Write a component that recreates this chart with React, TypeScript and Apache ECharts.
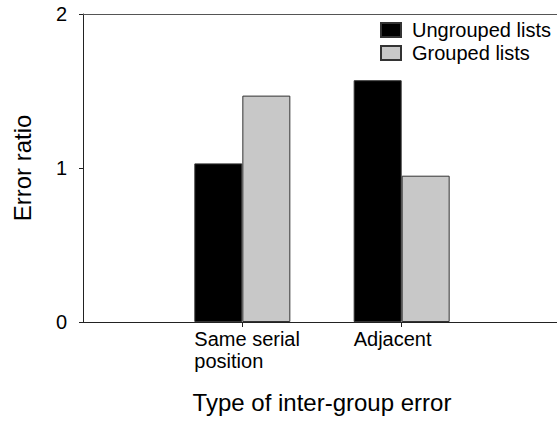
import React, { useEffect, useRef } from "react";
import * as echarts from "echarts";

const categories = ["", "Same serial\nposition", "Adjacent", ""];
const seriesNames = ["Ungrouped lists", "Grouped lists"];
const ungrouped = [null, 1.03, 1.57, null];
const grouped = [null, 1.47, 0.95, null];
const yMin = 0;
const yMax = 2;
const yInterval = 1;

export default function App() {
  const ref = useRef<HTMLDivElement>(null);
  useEffect(() => {
    const chart = echarts.init(ref.current!, null, { renderer: "svg" });
    const font = "'Liberation Sans', Arial, Helvetica, sans-serif";
    chart.setOption({
      animation: false,
      backgroundColor: "#ffffff",
      textStyle: { fontFamily: font, color: "#000" },
      grid: {
        left: 83,
        width: 478,
        top: 14,
        bottom: 101,
        containLabel: false,
        outerBoundsMode: "none",
      },
      legend: {
        left: 380,
        top: 20,
        orient: "vertical",
        itemWidth: 20,
        itemHeight: 14,
        itemGap: 3,
        icon: "rect",
        padding: 0,
        data: seriesNames,
        textStyle: { fontSize: 20, color: "#000", fontFamily: font, padding: [0, 0, 0, 6] },
      },
      xAxis: [
        {
          type: "category",
          data: categories,
          boundaryGap: false,
          name: "Type of inter-group error",
          nameLocation: "middle",
          nameGap: 68,
          nameTextStyle: { fontSize: 24, color: "#000", fontFamily: font },
          axisLine: { show: true, lineStyle: { color: "#222", width: 1 } },
          axisTick: {
            show: true,
            length: 5,
            interval: (i: number) => i === 1 || i === 2,
            lineStyle: { color: "#222" },
          },
          axisLabel: {
            interval: 0,
            margin: 6,
            align: "center",
            formatter: (v: string) =>
              v ? v.split("\n").map((l) => `{a|${l}}`).join("\n") : "",
            rich: {
              a: {
                width: 96,
                align: "left",
                fontSize: 20,
                lineHeight: 22,
                color: "#000",
                fontFamily: font,
              },
            },
          },
          splitLine: { show: false },
        },
        {
          type: "category",
          data: categories,
          boundaryGap: false,
          position: "top",
          axisLine: { show: true, lineStyle: { color: "#555", width: 1 } },
          axisTick: { show: false },
          axisLabel: { show: false },
          splitLine: { show: false },
        },
      ],
      yAxis: {
        type: "value",
        min: yMin,
        max: yMax,
        interval: yInterval,
        name: "Error ratio",
        nameLocation: "middle",
        nameGap: 49,
        nameTextStyle: { fontSize: 24, color: "#000", fontFamily: font },
        axisLine: { show: true, lineStyle: { color: "#222", width: 1 } },
        axisTick: { show: true, length: 4, lineStyle: { color: "#222" } },
        axisLabel: { fontSize: 20, margin: 16, color: "#000", fontFamily: font },
        splitLine: { show: false },
      },
      series: [
        {
          name: seriesNames[0],
          type: "bar",
          data: ungrouped,
          barWidth: 48,
          barGap: "0%",
          itemStyle: { color: "#000000", borderColor: "#333", borderWidth: 1 },
        },
        {
          name: seriesNames[1],
          type: "bar",
          data: grouped,
          barWidth: 48,
          barGap: "0%",
          itemStyle: { color: "#c8c8c8", borderColor: "#333", borderWidth: 1 },
        },
      ],
    });
    return () => chart.dispose();
  }, []);
  return (
    <div
      ref={ref}
      style={{ position: "fixed", left: 0, top: 0, width: 557, height: 423 }}
    />
  );
}
